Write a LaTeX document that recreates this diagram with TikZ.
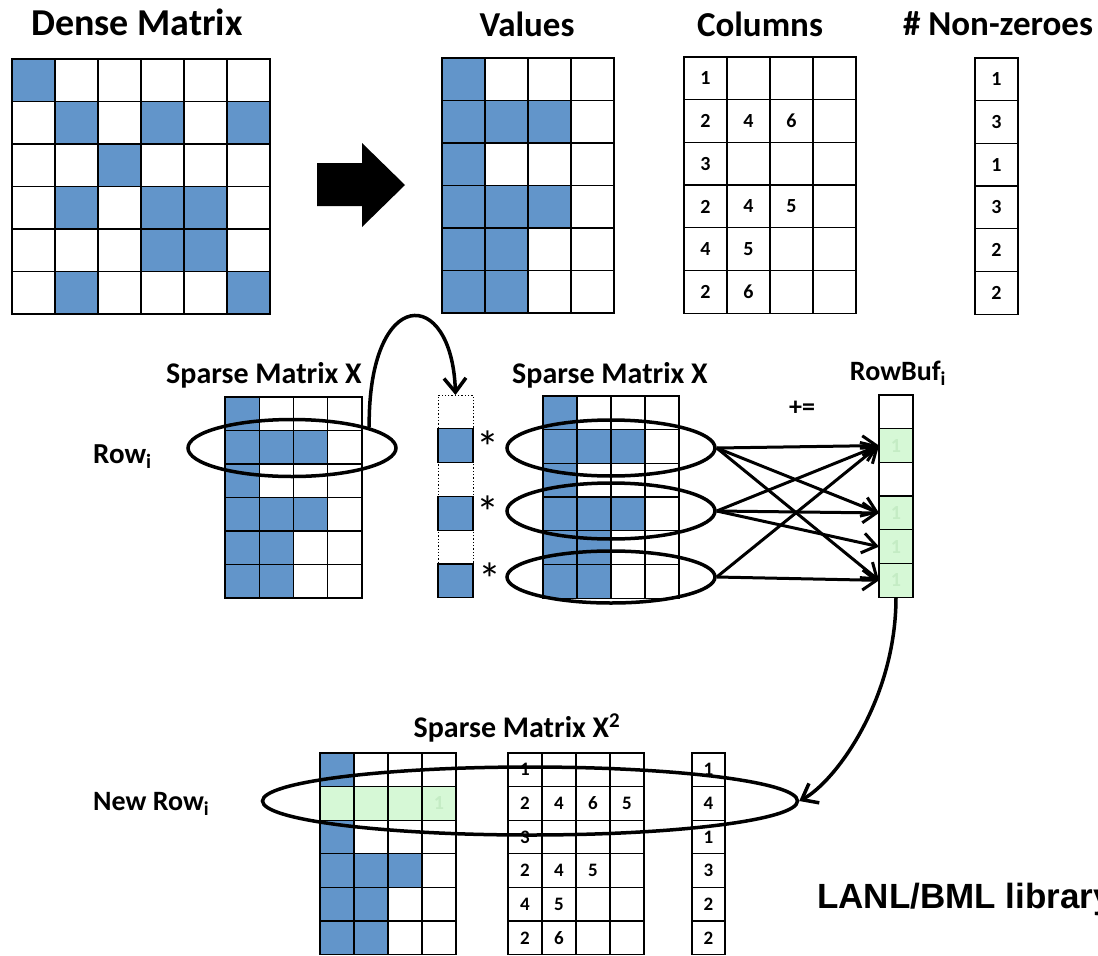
\documentclass[tikz,border=0pt]{standalone}
\usepackage{fontspec}
\setmainfont{Carlito}
\newfontfamily\arialfont{Liberation Sans}
\usetikzlibrary{shapes.geometric,arrows.meta}
\definecolor{cellblue}{RGB}{98,149,202}
\definecolor{cellgreen}{RGB}{214,248,214}
\definecolor{faintgreen}{RGB}{196,236,196}
\newcommand{\fsz}[1]{\fontsize{#1}{#1}\selectfont}
% grid of coloured cells: name, x0, y0, cell width, cell height, rows of styles
\newcommand{\colgrid}[6]{%
  \foreach \rowlist [count=\r] in {#6} {
    \foreach \sty [count=\c] in \rowlist {
      \node[cell, minimum width=#4pt, minimum height=#5pt, \sty] (#1-\r-\c)
        at ({#2+(\c-0.5)*#4},{#3+(\r-0.5)*#5}) {};
    }
  }
}
% grid of text cells: name, x0, y0, cell width, cell height, font size, rows of entries
\newcommand{\txtgrid}[7]{%
  \foreach \rowlist [count=\r] in {#7} {
    \foreach \t [count=\c] in \rowlist {
      \node[cell, minimum width=#4pt, minimum height=#5pt, font=\bfseries\fsz{#6}] (#1-\r-\c)
        at ({#2+(\c-0.5)*#4},{#3+(\r-0.5)*#5}) {\t};
    }
  }
}
\begin{document}
\begin{tikzpicture}[x=1pt,y=-1pt,
  cell/.style={rectangle, draw=black, line width=1.3pt, inner sep=0pt, outer sep=0pt},
  cw/.style={}, cb/.style={fill=cellblue}, cg/.style={fill=cellgreen},
  cd/.style={dotted, line width=1pt},
  title/.style={font=\bfseries\fsz{35}, anchor=base, inner sep=0pt},
  sub/.style={font=\bfseries\fsz{30}, anchor=base, inner sep=0pt},
  lbl/.style={font=\bfseries\fsz{29}, anchor=base west, inner sep=0pt},
  star/.style={font=\fsz{46}, anchor=base, inner sep=0pt},
  faint/.style={font=\bfseries\fsz{20}, text=faintgreen, inner sep=0pt},
  ring/.style={ellipse, draw=black, line width=3.5pt, inner sep=0pt},
  conn/.style={line width=3pt, -{Straight Barb[length=14pt,width=20pt]}},
  curvearr/.style={line width=3.5pt, -{Straight Barb[length=14pt,width=22pt]}}]
\useasboundingbox (0,0) rectangle (1098,956);
\fill[white] (0,0) rectangle (1098,956);

% ---------- top row ----------
\node[title, font=\bfseries\fsz{38}] (tDense) at (137,35) {Dense Matrix};
\colgrid{D}{12}{59}{43}{42.5}{
  {cb,cw,cw,cw,cw,cw},{cw,cb,cw,cb,cw,cb},{cw,cw,cb,cw,cw,cw},
  {cw,cb,cw,cb,cb,cw},{cw,cw,cw,cb,cb,cw},{cw,cb,cw,cw,cw,cb}}

\fill[black] (317,163) -- (362,163) -- (362,143) -- (405,185) -- (362,227) -- (362,206) -- (317,206) -- cycle;

\node[title] (tVal) at (527,36) {Values};
\colgrid{V}{442}{58}{43}{42.5}{
  {cb,cw,cw,cw},{cb,cb,cb,cw},{cb,cw,cw,cw},
  {cb,cb,cb,cw},{cb,cb,cw,cw},{cb,cb,cw,cw}}

\node[title] (tCol) at (760,36) {Columns};
\txtgrid{C}{684}{57}{43}{42.7}{20}{
  {1,\relax,\relax,\relax},{2,4,6,\relax},{3,\relax,\relax,\relax},
  {2,4,5,\relax},{4,5,\relax,\relax},{2,6,\relax,\relax}}

\node[title] (tNnz) at (998,35) {\# Non-zeroes};
\txtgrid{N}{975}{58}{43}{42.7}{20}{{1},{3},{1},{3},{2},{2}}

% ---------- middle row ----------
\node[sub] (tX1) at (264,383) {Sparse Matrix X};
\colgrid{X}{225}{397}{34.25}{33.5}{
  {cb,cw,cw,cw},{cb,cb,cb,cw},{cb,cw,cw,cw},
  {cb,cb,cb,cw},{cb,cb,cw,cw},{cb,cb,cw,cw}}
\node[lbl] (lRow) at (93,463) {Row\textsubscript{i}};

\colgrid{dc}{438}{395}{35}{33.8}{{cd},{cb},{cd},{cb},{cd},{cb}}
\node[star] (s1) at (488,463) {*};
\node[star] (s2) at (488,528) {*};
\node[star] (s3) at (490,595) {*};

\node[sub] (tX2) at (610,383) {Sparse Matrix X};
\colgrid{M}{543}{396}{34}{33.7}{
  {cb,cw,cw,cw},{cb,cb,cb,cw},{cb,cw,cw,cw},
  {cb,cb,cb,cw},{cb,cb,cw,cw},{cb,cb,cw,cw}}

\node[sub, font=\bfseries\fsz{28}] (tRB) at (898,380) {RowBuf\textsubscript{i}};
\node[font=\bfseries\fsz{26}, inner sep=0pt] (pe) at (802,408) {+=};
\colgrid{rb}{879}{395}{34}{33.7}{{cw},{cg},{cw},{cg},{cg},{cg}}
\node[faint] (f2) at (rb-2-1) {1};
\node[faint] (f4) at (rb-4-1) {1};
\node[faint] (f5) at (rb-5-1) {1};
\node[faint] (f6) at (rb-6-1) {1};

\node[ring, minimum width=208pt, minimum height=57pt] (eL) at (292,448) {};
\node[ring, minimum width=208pt, minimum height=56pt] (e1) at (611,448) {};
\node[ring, minimum width=208pt, minimum height=56pt] (e2) at (611,511) {};
\node[ring, minimum width=208pt, minimum height=52pt] (e3) at (611,577) {};

\draw[curvearr] (eL.15) .. controls (368,285) and (452,285) .. (dc-1-1.north);

\draw[conn] (e1.east) -- (rb-2-1.west);
\draw[conn] (e1.east) -- (rb-4-1.west);
\draw[conn] (e1.east) -- (rb-6-1.west);
\draw[conn] (e2.east) -- (rb-2-1.west);
\draw[conn] (e2.east) -- (rb-4-1.west);
\draw[conn] (e2.east) -- (rb-5-1.west);
\draw[conn] (e3.east) -- (rb-2-1.west);
\draw[conn] (e3.east) -- (rb-6-1.west);

% ---------- bottom row ----------
\node[sub] (tX3) at (517,737) {Sparse Matrix X\textsuperscript{2}};
\colgrid{B}{320}{753}{34}{33.6}{
  {cb,cw,cw,cw},{cg,cg,cg,cg},{cb,cw,cw,cw},
  {cb,cb,cb,cw},{cb,cb,cw,cw},{cb,cb,cw,cw}}
\node[faint] (fB) at (B-2-4) {1};
\txtgrid{BC}{508}{753}{34}{33.6}{19}{
  {1,\relax,\relax,\relax},{2,4,6,5},{3,\relax,\relax,\relax},
  {2,4,5,\relax},{4,5,\relax,\relax},{2,6,\relax,\relax}}
\txtgrid{BN}{692}{753}{33}{33.6}{19}{{1},{4},{1},{3},{2},{2}}

\node[lbl, font=\bfseries\fsz{28}] (lNew) at (93,810) {New Row\textsubscript{i}};
\node[ring, minimum width=535pt, minimum height=68pt] (eN) at (530,801) {};

\draw[curvearr] (rb-6-1.south) .. controls (896,700) and (835,782) .. (eN.east);

\node[anchor=base west, inner sep=0pt, font=\arialfont\bfseries\fsz{35}] (lib) at (817,908) {LANL/BML library};
\end{tikzpicture}
\end{document}
